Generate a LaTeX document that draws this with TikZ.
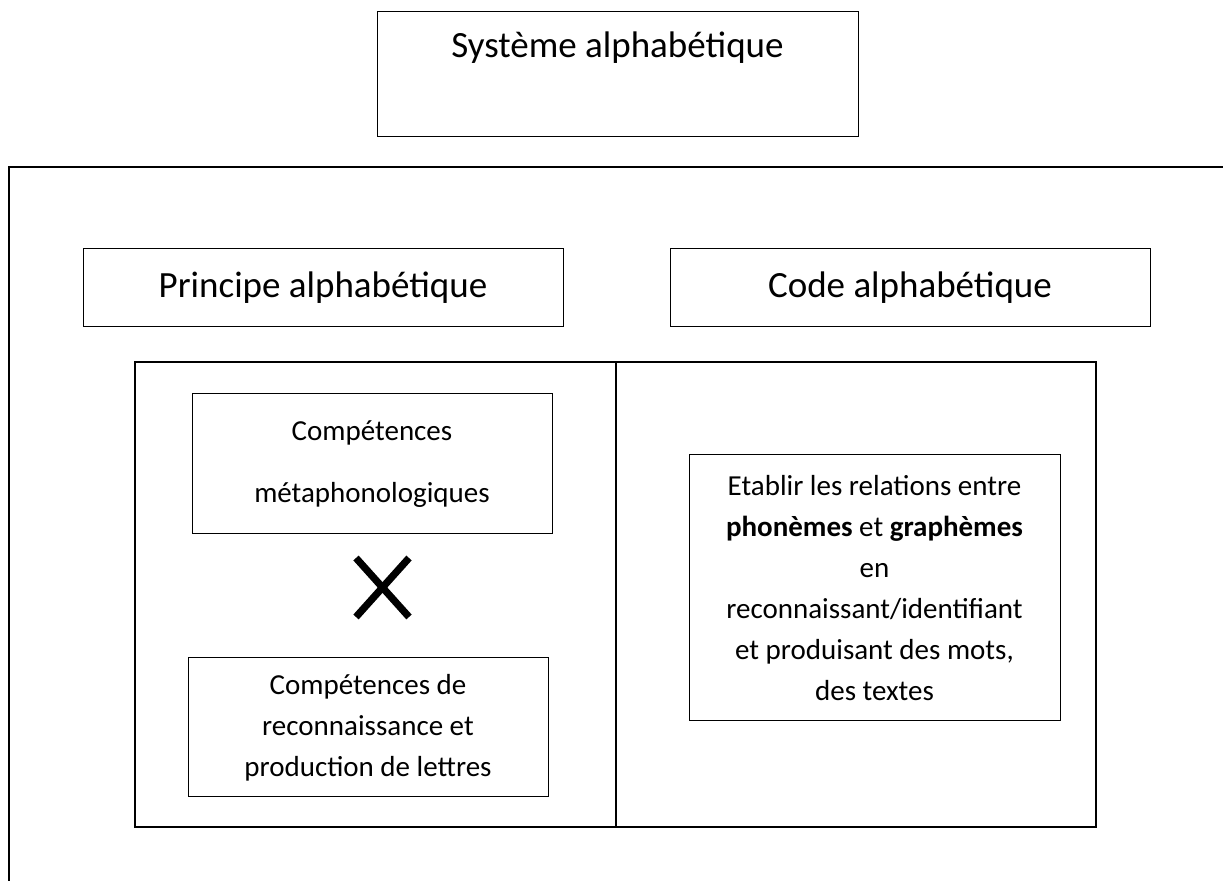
\documentclass[tikz,border=0pt]{standalone}
\usepackage{fontspec}
\setmainfont{Carlito}
\usetikzlibrary{positioning}
\tikzstyle{box} = [draw, line width=0.5pt, inner sep=0pt, align=center]
\tikzstyle{pane} = [draw, line width=1pt, inner sep=0pt]
\tikzstyle{head} = [font=\fontsize{18.5}{22}\selectfont]
\tikzstyle{body} = [font=\fontsize{14.5}{20.5}\selectfont, align=center]

\begin{document}
\begin{tikzpicture}[x=0.5pt,y=-0.5pt]
    \useasboundingbox (0,0) rectangle (1223,881);
    % titre
    \node [box, minimum width=240.5pt, minimum height=62.5pt] (systeme) at (617.5,74.5) {};
    \node [head] (systemetxt) at (617.5,48) {Système alphabétique};
    % cadre ouvert
    \coordinate (fr) at (1223,167);
    \coordinate (fc) at (9,167);
    \coordinate (fb) at (9,881);
    \draw [line width=1pt] (fr) -- (fc) -- (fb);

    \node [box, head, minimum width=240pt, minimum height=39pt] (principe) at (323,288) {Principe alphabétique};
    \node [box, head, minimum width=240pt, minimum height=39pt] (code) at (910,288) {Code alphabétique};

    \node [pane, minimum width=240.5pt, minimum height=232.5pt] (gauche) at (375.5,594.5) {};
    \node [pane, minimum width=240pt, minimum height=232.5pt] (droite) at (856,594.5) {};

    \node [box, body, minimum width=180pt, minimum height=70pt,
           font=\fontsize{14.5}{31}\selectfont] (meta) at (372,464) {Compétences\\métaphonologiques};
    \node [box, body, minimum width=180pt, minimum height=69.5pt] (lettres) at (368,727.5) {Compétences de\\reconnaissance et\\production de lettres};
    \node [box, body, minimum width=185.5pt, minimum height=133pt] (relations) at (874.5,588) {Etablir les relations entre\\\textbf{phonèmes} et \textbf{graphèmes}\\en\\reconnaissant/identifiant\\et produisant des mots,\\des textes};

    % croix
    \coordinate (x1) at (356,558);
    \coordinate (x2) at (409,617);
    \coordinate (x3) at (409,558);
    \coordinate (x4) at (356,617);
    \draw [line width=3.6pt] (x1) -- (x2) (x3) -- (x4);
\end{tikzpicture}
\end{document}
